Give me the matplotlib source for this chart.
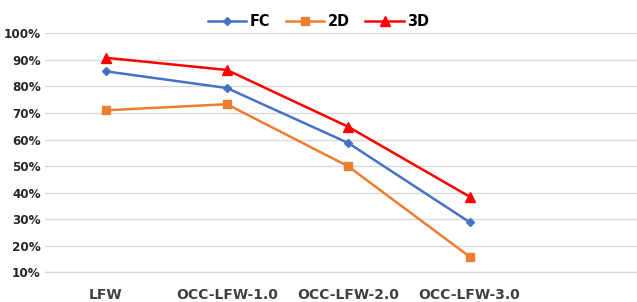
import matplotlib.pyplot as plt
from matplotlib.ticker import PercentFormatter

categories = ['LFW', 'OCC-LFW-1.0', 'OCC-LFW-2.0', 'OCC-LFW-3.0']
fc_values = [85.7, 79.4, 58.7, 28.9]
d2_values = [71.0, 73.3, 49.9, 15.9]
d3_values = [90.8, 86.2, 64.8, 38.5]

fig = plt.figure(figsize=(6.37, 3.02), dpi=100)
ax = fig.add_axes([0.0705, 0.0983, 0.9295, 0.7914])

x = range(len(categories))
ax.plot(x, fc_values, color='#4472C4', marker='D', markersize=4.5, linewidth=1.8, label='FC')
ax.plot(x, d2_values, color='#ED7D31', marker='s', markersize=6, linewidth=1.8, label='2D')
ax.plot(x, d3_values, color='#FF0000', marker='^', markersize=6.5, linewidth=1.8, label='3D')

ax.set_xlim(-0.5, 4.38)
ax.set_ylim(10, 100)
ax.set_yticks(range(10, 101, 10))
ax.yaxis.set_major_formatter(PercentFormatter(decimals=0))
ax.set_xticks(list(x))
ax.set_xticklabels(categories)

ax.grid(axis='y', color='#d9d9d9', linewidth=1)
ax.set_axisbelow(True)
for s in ['top', 'right', 'left']:
    ax.spines[s].set_visible(False)
ax.spines['bottom'].set_color('#d9d9d9')
ax.spines['bottom'].set_linewidth(1)

ax.tick_params(axis='both', length=0, colors='#262626')
ax.tick_params(axis='x', pad=11, labelsize=10)
ax.tick_params(axis='y', pad=3, labelsize=9.5)
for lbl in ax.get_xticklabels():
    lbl.set_fontweight('bold')
    lbl.set_color('#404040')
for lbl in ax.get_yticklabels():
    lbl.set_fontweight('bold')
    lbl.set_fontstretch('condensed')

leg = fig.legend(loc='upper center', bbox_to_anchor=(0.5, 1.0), ncol=3, frameon=False,
                 prop={'weight': 'bold', 'size': 11.5, 'stretch': 'condensed'}, handlelength=2.4,
                 handletextpad=0.2, columnspacing=1.0)

fig.savefig('out.png', dpi=100)
